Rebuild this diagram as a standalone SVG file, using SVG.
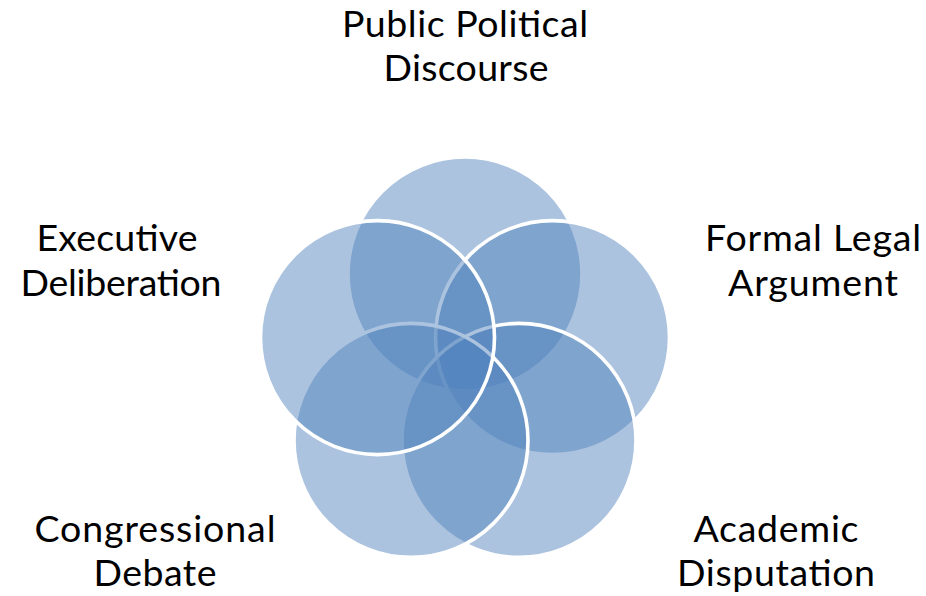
<svg xmlns="http://www.w3.org/2000/svg" width="926" height="596" viewBox="0 0 926 596">
  <style>
    .ring { fill: #4F81BD; fill-opacity: 0.48; stroke: #ffffff; stroke-width: 3.6; }
    .lbl { font-family: Lato, "Open Sans", "Liberation Sans", sans-serif; font-size: 37.5px; fill: #000000; text-anchor: middle; }
  </style>
  <rect width="926" height="596" fill="#ffffff"/>

  <!-- five overlapping sets arranged on a pentagon -->
  <g id="public-political-discourse">
    <circle class="ring" cx="465" cy="274" r="117"/>
    <text class="lbl" x="465" y="37" textLength="246">Public Political</text>
    <text class="lbl" x="466" y="81" textLength="165">Discourse</text>
  </g>
  <g id="formal-legal-argument">
    <circle class="ring" cx="552.5" cy="337.6" r="117"/>
    <text class="lbl" x="813" y="251" textLength="216">Formal Legal</text>
    <text class="lbl" x="813" y="296" textLength="170">Argument</text>
  </g>
  <g id="academic-disputation">
    <circle class="ring" cx="519" cy="440.4" r="117"/>
    <text class="lbl" x="776" y="542" textLength="165">Academic</text>
    <text class="lbl" x="776" y="586" textLength="198">Disputation</text>
  </g>
  <g id="congressional-debate">
    <circle class="ring" cx="411" cy="440.4" r="117"/>
    <text class="lbl" x="155" y="542" textLength="241">Congressional</text>
    <text class="lbl" x="155" y="586" textLength="123">Debate</text>
  </g>
  <g id="executive-deliberation">
    <circle class="ring" cx="377.5" cy="337.6" r="117"/>
    <text class="lbl" x="117" y="251" textLength="161">Executive</text>
    <text class="lbl" x="121" y="296" textLength="201">Deliberation</text>
  </g>

  <g id="connectors"/>
</svg>
